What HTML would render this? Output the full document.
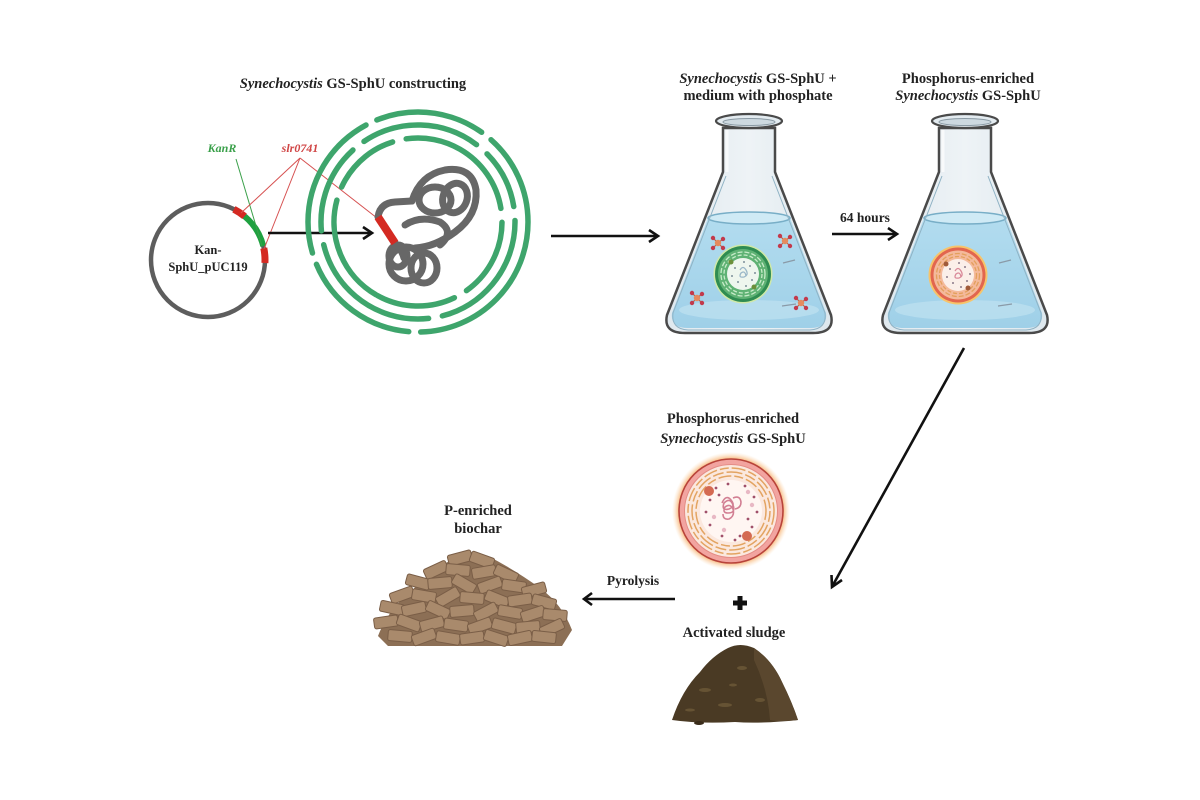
<!DOCTYPE html>
<html>
<head>
<meta charset="utf-8">
<style>
  html,body{margin:0;padding:0;background:#ffffff;}
  svg{display:block;}
  text{font-family:"Liberation Serif", serif;font-weight:bold;fill:#222;}
</style>
</head>
<body>
<svg width="1200" height="800" viewBox="0 0 1200 800" xmlns="http://www.w3.org/2000/svg">
  <defs>
    <radialGradient id="glowO" cx="50%" cy="50%" r="50%">
      <stop offset="86%" stop-color="#f6a35a" stop-opacity="1"/>
      <stop offset="100%" stop-color="#fbd9b0" stop-opacity="0"/>
    </radialGradient>
    <linearGradient id="glass" x1="0" y1="0" x2="1" y2="0">
      <stop offset="0" stop-color="#dfe8ee"/>
      <stop offset="0.5" stop-color="#eef3f6"/>
      <stop offset="1" stop-color="#dde7ed"/>
    </linearGradient>
    <linearGradient id="liq" x1="0" y1="0" x2="0" y2="1">
      <stop offset="0" stop-color="#b2dcef"/>
      <stop offset="1" stop-color="#9fd0e8"/>
    </linearGradient>
    <g id="mol">
      <line x1="0" y1="0" x2="-5" y2="-5" stroke="#b9604a" stroke-width="1.2"/>
      <line x1="0" y1="0" x2="5" y2="-4" stroke="#b9604a" stroke-width="1.2"/>
      <line x1="0" y1="0" x2="-5" y2="5" stroke="#b9604a" stroke-width="1.2"/>
      <line x1="0" y1="0" x2="5" y2="5" stroke="#b9604a" stroke-width="1.2"/>
      <circle cx="0" cy="0" r="3.2" fill="#e58a5e"/>
      <circle cx="-5" cy="-5" r="2.2" fill="#c23a4c"/>
      <circle cx="5" cy="-4" r="2.2" fill="#c23a4c"/>
      <circle cx="-5" cy="5" r="2.2" fill="#c23a4c"/>
      <circle cx="5" cy="5" r="2.2" fill="#c23a4c"/>
    </g>
    <rect id="blk" x="-12" y="-5.5" width="24" height="11" rx="2" fill="#a98a6c" stroke="#7a5e47" stroke-width="1"/>
  </defs>

  <!-- ===== Title ===== -->
  <text x="353" y="88" font-size="14.5" text-anchor="middle"><tspan font-style="italic">Synechocystis</tspan> GS-SphU  constructing</text>

  <!-- ===== Plasmid ===== -->
  <circle cx="208" cy="260" r="57" fill="none" stroke="#5d5d5d" stroke-width="4.5"/>
  <path d="M233.9,209.2 A57,57 0 0 1 244.6,216.3" fill="none" stroke="#d42a22" stroke-width="7"/>
  <path d="M244.6,216.3 A57,57 0 0 1 263.3,246.2" fill="none" stroke="#1fa140" stroke-width="6"/>
  <path d="M263.8,248.1 A57,57 0 0 1 264.9,263.0" fill="none" stroke="#d42a22" stroke-width="7"/>
  <text x="208" y="254" font-size="12.5" text-anchor="middle">Kan-</text>
  <text x="208" y="271" font-size="12.5" text-anchor="middle">SphU_pUC119</text>

  <!-- labels -->
  <text x="222" y="152" font-size="12" font-style="italic" text-anchor="middle" style="fill:#3aa04a">KanR</text>
  <text x="300" y="152" font-size="12" font-style="italic" text-anchor="middle" style="fill:#d04545">slr0741</text>
  <line x1="236" y1="159" x2="262" y2="246" stroke="#3aa04a" stroke-width="1"/>
  <line x1="300" y1="158" x2="241" y2="213" stroke="#d65050" stroke-width="1"/>
  <line x1="300" y1="158" x2="264" y2="249" stroke="#d65050" stroke-width="1"/>
  <line x1="300" y1="158" x2="377" y2="218" stroke="#d65050" stroke-width="1"/>

  <!-- arrow plasmid->cell -->
  <line x1="268" y1="233" x2="371" y2="233" stroke="#111" stroke-width="2.6"/>
  <polyline points="363,227 372,233 363,239" fill="none" stroke="#111" stroke-width="2.6"/>

  <!-- ===== Green cell rings ===== -->
  <g fill="none" stroke="#3ea56c" stroke-width="5.5" stroke-linecap="round">
    <circle cx="418" cy="222" r="110" stroke-dasharray="170 12 120 12 150 12 110 12 95 10"/>
    <circle cx="418" cy="222" r="97" stroke-dasharray="60 14 140 14 90 14 120 14 60 14 70 10" transform="rotate(40 418 222)"/>
    <circle cx="418" cy="222" r="84" stroke-dasharray="110 14 70 14 130 14 80 14 80 10" transform="rotate(120 418 222)"/>
  </g>

  <!-- genome tangle -->
  <g fill="none" stroke="#676767" stroke-width="7" stroke-linecap="round">
    <path d="M378,217 Q380,203 395,202 L412,201"/>
    <path d="M412,201 Q420,175 445,170 Q472,166 476,190 Q478,215 455,232 Q435,247 415,248"/>
    <ellipse cx="435" cy="200" rx="16" ry="13"/>
    <ellipse cx="455" cy="198" rx="12" ry="15" transform="rotate(20 455 198)"/>
    <path d="M405,225 Q420,215 440,222 Q455,232 440,245"/>
    <ellipse cx="406" cy="264" rx="17" ry="17"/>
    <ellipse cx="424" cy="268" rx="13" ry="15"/>
    <ellipse cx="398" cy="256" rx="9" ry="11"/>
    <path d="M395,243 Q402,250 404,258"/>
  </g>
  <line x1="378" y1="217" x2="395" y2="243" stroke="#d42a22" stroke-width="8"/>

  <!-- arrow to flask 1 -->
  <line x1="551" y1="236" x2="657" y2="236" stroke="#111" stroke-width="2.6"/>
  <polyline points="649,230 658,236 649,242" fill="none" stroke="#111" stroke-width="2.6"/>

  <!-- ===== Flask 1 ===== -->
  <g id="flask1">
    <path d="M723,128 L723,172 L667,315 Q663,333 685,333 L813,333 Q835,333 831,315 L775,172 L775,128 Z" fill="url(#glass)" stroke="#4a4a4a" stroke-width="2.5"/>
    <path d="M708,218 L672,313 Q670,328 688,328 L810,328 Q828,328 826,313 L790,218 Z" fill="url(#liq)"/>
    <ellipse cx="749" cy="310" rx="70" ry="10" fill="#c4e4f2" opacity="0.6"/>
    <ellipse cx="749" cy="218" rx="41" ry="6" fill="#cfeaf5" stroke="#78aec7" stroke-width="1.5"/>
    <path d="M727,130 L727,172" stroke="#ffffff" stroke-width="3" opacity="0.7"/>
    <path d="M726,176 L673,313 Q671,329 688,330 L810,330 Q827,329 825,313 L772,176" fill="none" stroke="#8fb2c4" stroke-width="1"/>
    <ellipse cx="749" cy="121" rx="33" ry="7" fill="#e3ebf0" stroke="#4a4a4a" stroke-width="2.2"/>
    <ellipse cx="749" cy="122" rx="26" ry="3.5" fill="#cdd9e0" stroke="#8a9aa4" stroke-width="1"/>
    <line x1="783" y1="263" x2="795" y2="260" stroke="#8a9aa8" stroke-width="1.2"/>
    <line x1="782" y1="306" x2="796" y2="304" stroke="#8a9aa8" stroke-width="1.2"/>
    <use href="#mol" x="718" y="243"/>
    <use href="#mol" x="785" y="241"/>
    <use href="#mol" x="697" y="298"/>
    <use href="#mol" x="801" y="303"/>
    <circle cx="743" cy="274" r="29.5" fill="#cfe9a8"/>
    <circle cx="743" cy="274" r="28" fill="#2f8c52"/>
    <circle cx="743" cy="274" r="25" fill="#5fb274"/>
    <circle cx="743" cy="274" r="22" fill="none" stroke="#c7ebc9" stroke-width="1.3" stroke-dasharray="5 2"/>
    <circle cx="743" cy="274" r="19" fill="none" stroke="#c7ebc9" stroke-width="1.3" stroke-dasharray="4 2"/>
    <circle cx="743" cy="274" r="16" fill="#eef6ee"/>
    <g fill="#7c8f9a">
      <circle cx="735" cy="268" r="1"/><circle cx="750" cy="266" r="1"/><circle cx="738" cy="282" r="1"/>
      <circle cx="752" cy="280" r="1"/><circle cx="744" cy="262" r="1"/><circle cx="732" cy="276" r="1"/>
      <circle cx="755" cy="273" r="1"/><circle cx="746" cy="286" r="1"/>
    </g>
    <path d="M740,270 q3,-5 6,0 q3,5 -2,7 q-6,1 -3,-4 q4,-3 5,3" fill="none" stroke="#9ab7c8" stroke-width="1.3"/>
    <circle cx="731" cy="262" r="2.5" fill="#6b8f3a"/>
    <circle cx="754" cy="287" r="2.5" fill="#6b8f3a"/>
  </g>

  <!-- arrow 64 hours -->
  <text x="865" y="222" font-size="13.5" text-anchor="middle">64 hours</text>
  <line x1="832" y1="234" x2="896" y2="234" stroke="#111" stroke-width="2.6"/>
  <polyline points="888,228 897,234 888,240" fill="none" stroke="#111" stroke-width="2.6"/>

  <!-- ===== Flask 2 ===== -->
  <g transform="translate(216,0)">
    <path d="M723,128 L723,172 L667,315 Q663,333 685,333 L813,333 Q835,333 831,315 L775,172 L775,128 Z" fill="url(#glass)" stroke="#4a4a4a" stroke-width="2.5"/>
    <path d="M708,218 L672,313 Q670,328 688,328 L810,328 Q828,328 826,313 L790,218 Z" fill="url(#liq)"/>
    <ellipse cx="749" cy="310" rx="70" ry="10" fill="#c4e4f2" opacity="0.6"/>
    <ellipse cx="749" cy="218" rx="41" ry="6" fill="#cfeaf5" stroke="#78aec7" stroke-width="1.5"/>
    <path d="M727,130 L727,172" stroke="#ffffff" stroke-width="3" opacity="0.7"/>
    <path d="M726,176 L673,313 Q671,329 688,330 L810,330 Q827,329 825,313 L772,176" fill="none" stroke="#8fb2c4" stroke-width="1"/>
    <ellipse cx="749" cy="121" rx="33" ry="7" fill="#e3ebf0" stroke="#4a4a4a" stroke-width="2.2"/>
    <ellipse cx="749" cy="122" rx="26" ry="3.5" fill="#cdd9e0" stroke="#8a9aa4" stroke-width="1"/>
    <line x1="783" y1="263" x2="795" y2="260" stroke="#8a9aa8" stroke-width="1.2"/>
    <line x1="782" y1="306" x2="796" y2="304" stroke="#8a9aa8" stroke-width="1.2"/>
    <circle cx="742" cy="275" r="29.5" fill="#f7c46a"/>
    <circle cx="742" cy="275" r="27.5" fill="#e2664f"/>
    <circle cx="742" cy="275" r="24.5" fill="#f4b99b"/>
    <circle cx="742" cy="275" r="21.5" fill="none" stroke="#e3a05c" stroke-width="1.3" stroke-dasharray="5 2"/>
    <circle cx="742" cy="275" r="18.5" fill="none" stroke="#e3a05c" stroke-width="1.3" stroke-dasharray="4 2"/>
    <circle cx="742" cy="275" r="16" fill="#fbefe9"/>
    <g fill="#8a7a8a">
      <circle cx="734" cy="269" r="1"/><circle cx="749" cy="267" r="1"/><circle cx="737" cy="283" r="1"/>
      <circle cx="751" cy="281" r="1"/><circle cx="743" cy="263" r="1"/><circle cx="731" cy="277" r="1"/>
      <circle cx="754" cy="274" r="1"/><circle cx="745" cy="287" r="1"/>
    </g>
    <path d="M739,271 q3,-5 6,0 q3,5 -2,7 q-6,1 -3,-4 q4,-3 5,3" fill="none" stroke="#d98a9a" stroke-width="1.3"/>
    <circle cx="730" cy="264" r="2.5" fill="#a05a3a"/>
    <circle cx="752" cy="288" r="2.5" fill="#a05a3a"/>
  </g>

  <!-- top right labels -->
  <text x="758" y="83" font-size="14.5" text-anchor="middle"><tspan font-style="italic">Synechocystis</tspan> GS-SphU +</text>
  <text x="758" y="100" font-size="14.5" text-anchor="middle">medium  with  phosphate</text>
  <text x="968" y="83" font-size="14.5" text-anchor="middle">Phosphorus-enriched</text>
  <text x="968" y="100" font-size="14.5" text-anchor="middle"><tspan font-style="italic">Synechocystis</tspan> GS-SphU</text>

  <!-- diagonal arrow -->
  <line x1="964" y1="348" x2="833" y2="585" stroke="#111" stroke-width="2.6"/>
  <polyline points="831.5,575 832,587 842,580" fill="none" stroke="#111" stroke-width="2.6"/>

  <!-- ===== Bottom cell ===== -->
  <text x="733" y="423" font-size="14.5" text-anchor="middle">Phosphorus-enriched</text>
  <text x="733" y="443" font-size="14.5" text-anchor="middle"><tspan font-style="italic">Synechocystis</tspan> GS-SphU</text>

  <circle cx="731" cy="511" r="59" fill="url(#glowO)"/>
  <circle cx="731" cy="511" r="52" fill="#f2a4a0" stroke="#b8433a" stroke-width="1.6"/>
  <circle cx="731" cy="511" r="46.5" fill="#fbe8de" stroke="#e48c86" stroke-width="1"/>
  <g fill="none" stroke="#e3a462" stroke-width="1.5">
    <circle cx="731" cy="511" r="43" stroke-dasharray="14 3 9 3"/>
    <circle cx="731" cy="511" r="39" stroke-dasharray="11 3 16 3"/>
    <circle cx="731" cy="511" r="35" stroke-dasharray="9 3 13 3"/>
  </g>
  <circle cx="731" cy="511" r="31" fill="#fff6f2"/>
  <g fill="#a0506a">
    <circle cx="710" cy="500" r="1.4"/><circle cx="716" cy="488" r="1.4"/><circle cx="728" cy="484" r="1.4"/>
    <circle cx="745" cy="486" r="1.4"/><circle cx="754" cy="497" r="1.4"/><circle cx="757" cy="512" r="1.4"/>
    <circle cx="752" cy="527" r="1.4"/><circle cx="740" cy="536" r="1.4"/><circle cx="722" cy="536" r="1.4"/>
    <circle cx="710" cy="525" r="1.4"/><circle cx="706" cy="512" r="1.4"/><circle cx="735" cy="540" r="1.4"/>
    <circle cx="719" cy="495" r="1.4"/><circle cx="748" cy="519" r="1.4"/>
  </g>
  <g fill="#e8b8c4">
    <circle cx="714" cy="517" r="2.2"/><circle cx="748" cy="492" r="2.2"/><circle cx="724" cy="530" r="2.2"/>
    <circle cx="752" cy="505" r="2.2"/>
  </g>
  <path d="M722,503 q4,-9 9,-3 q5,6 -2,9 q-8,2 -5,-6 q6,-6 9,2 q3,8 -5,8 q-6,0 -3,-6 q5,-4 8,2 q2,7 -4,10 q-6,1 -6,-5 M733,498 q7,-3 8,4 q0,6 -6,7" fill="none" stroke="#d27f93" stroke-width="1.6"/>
  <circle cx="709" cy="491" r="5" fill="#d46a52"/>
  <circle cx="747" cy="536" r="5" fill="#d46a52"/>

  <!-- plus -->
  <rect x="733" y="600.5" width="14" height="5" fill="#111"/>
  <rect x="737.5" y="596" width="5" height="14" fill="#111"/>

  <!-- pyrolysis arrow -->
  <text x="633" y="585" font-size="13.5" text-anchor="middle">Pyrolysis</text>
  <line x1="675" y1="599" x2="585" y2="599" stroke="#111" stroke-width="2.6"/>
  <polyline points="592,593 584,599 592,605" fill="none" stroke="#111" stroke-width="2.6"/>

  <!-- Activated sludge -->
  <text x="734" y="637" font-size="14.5" text-anchor="middle">Activated  sludge</text>
  <path d="M672,720 Q682,690 700,672 Q712,656 728,648 Q740,642 754,648 Q772,660 782,682 Q792,702 798,720 Q760,724 735,722 Q700,724 672,720 Z" fill="#4a3a24"/>
  <path d="M754,648 Q772,660 782,682 Q792,702 798,720 Q780,722 770,720 Q768,690 754,660 Z" fill="#5a472e"/>
  <g fill="#6e5a38" opacity="0.8">
    <ellipse cx="705" cy="690" rx="6" ry="2"/><ellipse cx="742" cy="668" rx="5" ry="2"/>
    <ellipse cx="725" cy="705" rx="7" ry="2"/><ellipse cx="760" cy="700" rx="5" ry="2"/>
    <ellipse cx="690" cy="710" rx="5" ry="1.5"/><ellipse cx="733" cy="685" rx="4" ry="1.5"/>
  </g>
  <ellipse cx="699" cy="723" rx="5" ry="2" fill="#3a2c1a"/>

  <!-- P-enriched biochar -->
  <text x="478" y="515" font-size="14.5" text-anchor="middle">P-enriched</text>
  <text x="478" y="533" font-size="14.5" text-anchor="middle">biochar</text>

  <path d="M378,636 Q388,610 410,592 Q435,568 458,556 Q472,550 488,556 Q515,570 540,588 Q562,604 572,630 L562,646 L388,646 Z" fill="#8c6f55"/>
  <g>
    <use href="#blk" transform="translate(460,558) rotate(-15)"/>
    <use href="#blk" transform="translate(482,560) rotate(20)"/>
    <use href="#blk" transform="translate(436,570) rotate(-25)"/>
    <use href="#blk" transform="translate(458,570) rotate(5)"/>
    <use href="#blk" transform="translate(484,572) rotate(-10)"/>
    <use href="#blk" transform="translate(506,574) rotate(25)"/>
    <use href="#blk" transform="translate(418,582) rotate(15)"/>
    <use href="#blk" transform="translate(440,583) rotate(-5)"/>
    <use href="#blk" transform="translate(464,584) rotate(30)"/>
    <use href="#blk" transform="translate(490,585) rotate(-20)"/>
    <use href="#blk" transform="translate(514,586) rotate(8)"/>
    <use href="#blk" transform="translate(534,590) rotate(-15)"/>
    <use href="#blk" transform="translate(402,595) rotate(-20)"/>
    <use href="#blk" transform="translate(424,596) rotate(10)"/>
    <use href="#blk" transform="translate(448,597) rotate(-30)"/>
    <use href="#blk" transform="translate(472,598) rotate(5)"/>
    <use href="#blk" transform="translate(497,599) rotate(22)"/>
    <use href="#blk" transform="translate(520,600) rotate(-8)"/>
    <use href="#blk" transform="translate(544,602) rotate(15)"/>
    <use href="#blk" transform="translate(392,608) rotate(12)"/>
    <use href="#blk" transform="translate(414,609) rotate(-12)"/>
    <use href="#blk" transform="translate(438,610) rotate(25)"/>
    <use href="#blk" transform="translate(462,611) rotate(-5)"/>
    <use href="#blk" transform="translate(486,612) rotate(-28)"/>
    <use href="#blk" transform="translate(510,612) rotate(10)"/>
    <use href="#blk" transform="translate(533,614) rotate(-18)"/>
    <use href="#blk" transform="translate(555,615) rotate(5)"/>
    <use href="#blk" transform="translate(386,622) rotate(-8)"/>
    <use href="#blk" transform="translate(409,623) rotate(20)"/>
    <use href="#blk" transform="translate(432,624) rotate(-15)"/>
    <use href="#blk" transform="translate(456,625) rotate(8)"/>
    <use href="#blk" transform="translate(480,626) rotate(-20)"/>
    <use href="#blk" transform="translate(504,626) rotate(15)"/>
    <use href="#blk" transform="translate(528,627) rotate(-5)"/>
    <use href="#blk" transform="translate(552,628) rotate(-25)"/>
    <use href="#blk" transform="translate(400,636) rotate(5)"/>
    <use href="#blk" transform="translate(424,637) rotate(-20)"/>
    <use href="#blk" transform="translate(448,638) rotate(10)"/>
    <use href="#blk" transform="translate(472,638) rotate(-8)"/>
    <use href="#blk" transform="translate(496,638) rotate(18)"/>
    <use href="#blk" transform="translate(520,638) rotate(-12)"/>
    <use href="#blk" transform="translate(544,637) rotate(6)"/>
  </g>
</svg>
</body>
</html>
